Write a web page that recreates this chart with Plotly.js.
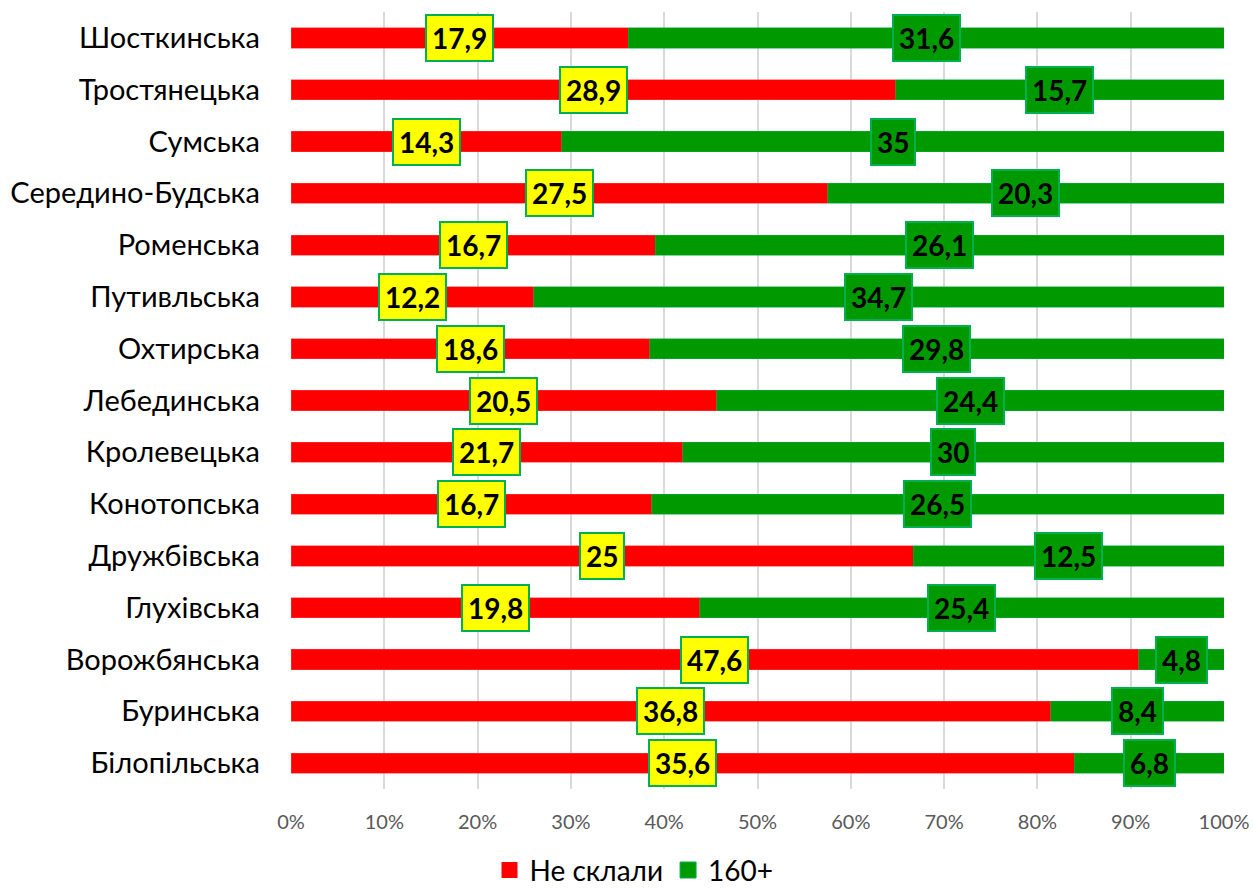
<!DOCTYPE html>
<html>
<head>
<meta charset="utf-8">
<script src="https://cdn.plot.ly/plotly-3.0.1.min.js"></script>
<style>html,body{margin:0;padding:0;background:#fff;}#chart{width:1253px;height:889px;}</style>
</head>
<body>
<div id="chart"></div>
<script>
var categories = ["Шосткинська","Тростянецька","Сумська","Середино-Будська","Роменська","Путивльська","Охтирська","Лебединська","Кролевецька","Конотопська","Дружбівська","Глухівська","Ворожбянська","Буринська","Білопільська"];
var failed = [17.9, 28.9, 14.3, 27.5, 16.7, 12.2, 18.6, 20.5, 21.7, 16.7, 25, 19.8, 47.6, 36.8, 35.6];
var high = [31.6, 15.7, 35, 20.3, 26.1, 34.7, 29.8, 24.4, 30, 26.5, 12.5, 25.4, 4.8, 8.4, 6.8];
var seriesNames = ["Не склали", "160+"];
var tickVals = [0,10,20,30,40,50,60,70,80,90,100];

var FONT = "Lato, 'Open Sans', sans-serif";
var RED = '#FF0000', GREEN = '#009900';
function fmt(v){ return String(v).replace('.', ','); }

var traces = [
  {type:'bar', orientation:'h', name:seriesNames[0], y:categories, x:failed, showlegend:false,
   marker:{color:RED, line:{color:'#FF4040', width:0.5}}, hoverinfo:'x+y'},
  {type:'bar', orientation:'h', name:seriesNames[1], y:categories, x:high, showlegend:false,
   marker:{color:GREEN, line:{color:'#00B050', width:0.5}}, hoverinfo:'x+y'},
  {type:'scatter', mode:'markers', name:seriesNames[0], x:[null], y:[null], showlegend:true,
   marker:{symbol:'square', size:18, color:RED, line:{width:0}}},
  {type:'scatter', mode:'markers', name:seriesNames[1], x:[null], y:[null], showlegend:true,
   marker:{symbol:'square', size:18, color:GREEN, line:{color:'#00B050', width:1}}}
];

var annotations = [];
for (var i = 0; i < categories.length; i++) {
  var tot = failed[i] + high[i];
  var p1 = failed[i] / tot * 100;
  var p2 = high[i] / tot * 100;
  annotations.push({x:p1/2, y:categories[i], xref:'x', yref:'y', text:fmt(failed[i]), showarrow:false,
    font:{family:FONT, size:28, color:'#000', weight:'bold'}, bgcolor:'#FFFF00', bordercolor:'#00B050', borderwidth:2, borderpad:5});
  annotations.push({x:p1 + p2/2, y:categories[i], xref:'x', yref:'y', text:fmt(high[i]), showarrow:false,
    font:{family:FONT, size:28, color:'#000', weight:'bold'}, bgcolor:GREEN, bordercolor:'#00B050', borderwidth:2, borderpad:5});
}

var layout = {
  width:1253, height:889,
  margin:{l:291, r:29, t:12, b:100},
  barmode:'stack', barnorm:'percent', bargap:0.61,
  paper_bgcolor:'#fff', plot_bgcolor:'#fff',
  font:{family:FONT, color:'#000'},
  xaxis:{range:[0,100], tickvals:tickVals, ticktext:tickVals.map(function(v){return v+'%';}),
    showgrid:true, gridcolor:'#D9D9D9', gridwidth:2, zeroline:false, showline:false,
    tickfont:{family:FONT, size:20, color:'#595959'}, ticks:'outside', ticklen:15, tickcolor:'rgba(0,0,0,0)', fixedrange:true},
  yaxis:{autorange:'reversed', type:'category', showgrid:false, zeroline:false, showline:false,
    tickfont:{family:FONT, size:29, color:'#000'}, ticks:'', ticklabelstandoff:30, fixedrange:true},
  legend:{orientation:'h', x:0.506, xanchor:'center', xref:'container', y:0.021, yanchor:'middle', yref:'container',
    font:{family:FONT, size:28, color:'#000'}, traceorder:'normal', itemwidth:30},
  annotations:annotations,
  showlegend:true
};

Plotly.newPlot('chart', traces, layout, {displayModeBar:false, staticPlot:true});
</script>
</body>
</html>
